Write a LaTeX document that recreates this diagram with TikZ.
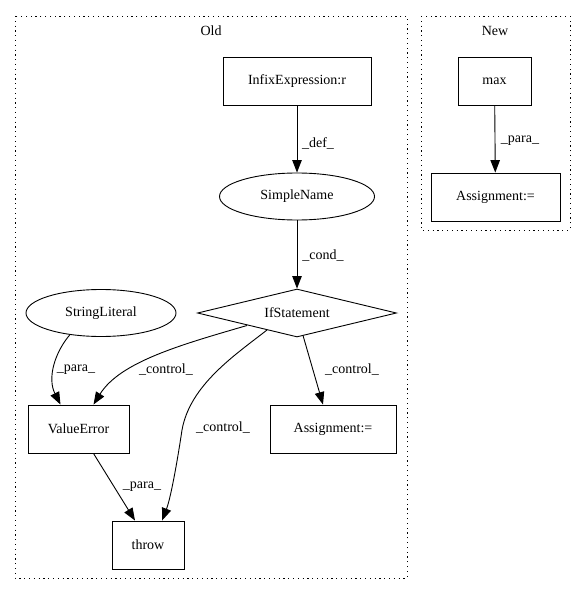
\documentclass[tikz,border=0pt]{standalone}
\usepackage{fontspec}
\setmainfont{Liberation Serif}
\usetikzlibrary{shapes.geometric,arrows.meta,calc}
\begin{document}
\begin{tikzpicture}[x=1pt,y=-1pt,
  every node/.style={font=\fontsize{14}{16}\selectfont},
  box/.style={draw,rectangle,minimum height=48pt,inner sep=0pt},
  oval/.style={draw,ellipse,minimum height=47pt,inner sep=0pt},
  dia/.style={draw,diamond,minimum width=199pt,minimum height=48pt,inner sep=0pt,aspect=4},
  arr/.style={draw,line width=0.9pt,-{Triangle[length=12.5pt,width=9.5pt]}},
  lbl/.style={inner sep=0pt},
  cluster/.style={draw,line width=0.9pt,dash pattern=on 1.2pt off 3.6pt},
  line width=0.9pt]
\useasboundingbox (0,0) rectangle (580,596);
\draw[cluster] (15,16) rectangle (407,578);
\draw[cluster] (421,16) rectangle (570,230);
\node[lbl] (oldlbl) at (211,31) {Old};
\node[lbl] (newlbl) at (495,31) {New};
% Old nodes
\node[box,minimum width=148pt] (ie) at (297,81) {InfixExpression:r};
\node[oval,minimum width=155pt] (sn) at (297,196.5) {SimpleName};
\node[dia] (if) at (297,313) {IfStatement};
\node[oval,minimum width=150pt] (sl) at (101,313) {StringLiteral};
\node[box,minimum width=101pt] (ve) at (78.5,429) {ValueError};
\node[box,minimum width=126pt] (as) at (333,429) {Assignment:=};
\node[box,minimum width=72pt] (th) at (148,545) {throw};
% New nodes
\node[box,minimum width=73pt] (mx) at (494.5,81) {max};
\node[box,minimum width=129pt] (asn) at (495.5,197) {Assignment:=};
% edges
\draw[arr] (ie) -- (sn);
\draw[arr] (sn) -- (if);
\draw[arr] (sl.215) .. controls (55,352) and (47,378) .. ($(ve.north)+(-18,0)$);
\draw[arr] ($(if.center)+(-50,12.5)$) .. controls (180,345) and (120,362) .. ($(ve.north)+(15,0)$);
\draw[arr] ($(if.center)+(-30,17)$) .. controls (235,355) and (190,385) .. (182,430) .. controls (176,470) and (170,500) .. ($(th.north)+(14,0)$);
\draw[arr] ($(if.center)+(6,22.5)$) -- ($(as.north)+(-10,0)$);
\draw[arr] ($(ve.south)+(15,0)$) -- ($(th.north)+(-13,0)$);
\draw[arr] (mx) -- (asn);
% labels
\node[lbl] (l1) at (318,143) {\_def\_};
\node[lbl] (l2) at (323,256) {\_cond\_};
\node[lbl] (l3) at (76,370) {\_para\_};
\node[lbl] (l4) at (166,370) {\_control\_};
\node[lbl] (l5) at (223,428) {\_control\_};
\node[lbl] (l6) at (352,370) {\_control\_};
\node[lbl] (l7) at (142,487) {\_para\_};
\node[lbl] (l8) at (520,141) {\_para\_};
\end{tikzpicture}
\end{document}
